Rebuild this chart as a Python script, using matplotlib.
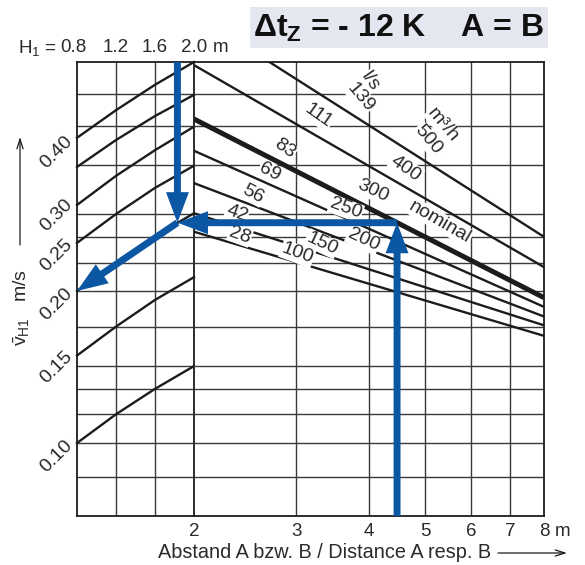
import matplotlib
matplotlib.use('Agg')
import matplotlib.pyplot as plt
from matplotlib.patches import Rectangle
from matplotlib.ticker import NullLocator
from matplotlib import transforms

plt.rcParams['font.family'] = ['Liberation Sans', 'DejaVu Sans']
plt.rcParams['mathtext.fontset'] = 'custom'
plt.rcParams['mathtext.rm'] = 'Liberation Sans'
plt.rcParams['mathtext.it'] = 'Liberation Sans:italic'
plt.rcParams['mathtext.bf'] = 'Liberation Sans:bold'

# left panel: mounting height H1 (m) and velocity curves (m/s)
h1_ticks = [0.8, 1.2, 1.6, 2.0]
h1_curves = [
    [0.402, 0.456, 0.512, 0.568],
    [0.352, 0.398, 0.444, 0.489],
    [0.296, 0.338, 0.380, 0.423],
    [0.249, 0.284, 0.320, 0.354],
    [0.200, 0.228, 0.257, 0.285],
    [0.149, 0.170, 0.192, 0.213],
    [0.100, 0.114, 0.128, 0.142],
]

# right panel: distance A / B (m), one line per air volume
dist_ends = [2, 8]
dist_ticks = [2, 3, 4, 5, 6, 7, 8]
flow_ls = ['139', '111', '83', '69', '56', '42', '28']
flow_m3h = ['500', '400', '300', '250', '200', '150', '100']
flow_v = [
    [0.707, 0.256],
    [0.560, 0.223],
    [0.438, 0.194],
    [0.379, 0.186],
    [0.327, 0.178],
    [0.285, 0.171],
    [0.262, 0.163],
]
nominal = '83'

# velocity axis (m/s)
v_min, v_max = 0.0717, 0.568
v_grid = [0.0857, 0.10, 0.114, 0.128, 0.142, 0.170, 0.20, 0.227, 0.256,
          0.284, 0.355, 0.424, 0.491]
v_labels = [0.10, 0.15, 0.20, 0.25, 0.30, 0.40]

# worked example (blue arrows)
ex_dist = 4.47
ex_v = 0.273
ex_h1 = 1.83
ex_v_out = 0.20

# label placement on the right panel: (text, distance, velocity, angle)
line_labels = [
    ('l/s', 4.02, 0.519, -55), ('139', 3.86, 0.484, -50),
    ('111', 3.27, 0.444, -35), ('83', 2.86, 0.382, -35),
    ('69', 2.70, 0.344, -28), ('56', 2.53, 0.311, -28),
    ('42', 2.37, 0.285, -20), ('28', 2.40, 0.258, -20),
    ('m³/h', 5.36, 0.426, -50), ('500', 5.05, 0.398, -50),
    ('400', 4.63, 0.350, -35), ('300', 4.06, 0.316, -25),
    ('250', 3.65, 0.291, -20), ('200', 3.91, 0.252, -25),
    ('150', 3.32, 0.248, -25), ('100', 3.01, 0.237, -20),
    ('nominal', 5.30, 0.274, -30),
]

W, H = 585, 565
blue = '#0b57a4'
ink = '#1c1c1c'
grid_c = '#3a3a3a'
txt_c = '#2a2a2a'
fs = 13.5


def box(x0, y0, x1, y1):
    return [x0 / W, 1 - y1 / H, (x1 - x0) / W, (y1 - y0) / H]


fig = plt.figure(figsize=(W / 100, H / 100), dpi=100)
ax_l = fig.add_axes(box(77, 62, 194, 516))
ax_r = fig.add_axes(box(194, 62, 544, 516))
ax_r.patch.set_facecolor('none')

ax_r.set_xscale('log')
ax_r.set_xlim(dist_ends[0], dist_ends[-1])
ax_l.set_xlim(h1_ticks[0], h1_ticks[-1])
for ax in (ax_l, ax_r):
    ax.set_yscale('log')
    ax.set_ylim(v_min, v_max)
    for axis in (ax.xaxis, ax.yaxis):
        axis.set_major_locator(NullLocator())
        axis.set_minor_locator(NullLocator())
    for s in ax.spines.values():
        s.set_linewidth(1.3)
        s.set_color(ink)
    for v in v_grid:
        ax.axhline(v, color=grid_c, lw=1.0, zorder=1)
ax_r.spines['left'].set_visible(False)

for h in h1_ticks[1:-1]:
    ax_l.axvline(h, color=grid_c, lw=1.0, zorder=1)
for d in dist_ticks[1:-1]:
    ax_r.axvline(d, color=grid_c, lw=1.0, zorder=1)

# curves
for c in h1_curves:
    ax_l.plot(h1_ticks, c, color=ink, lw=1.7, zorder=3, clip_on=False)
for name, vals in zip(flow_ls, flow_v):
    ax_r.plot(dist_ends, vals, color=ink, lw=3.6 if name == nominal else 1.7,
              zorder=3, solid_capstyle='butt')

for txt, d, v, rot in line_labels:
    ax_r.text(d, v, txt, rotation=rot, rotation_mode='anchor', ha='center',
              va='center', fontsize=14, color=txt_c, zorder=5,
              bbox=dict(fc='white', ec='none', pad=0.5))

# y labels (rotated)
tr = transforms.blended_transform_factory(ax_l.transAxes, ax_l.transData)
for v in v_labels:
    ax_l.text(-0.06, v, f'{v:.2f}', transform=tr, rotation=45,
              rotation_mode='anchor', ha='right', va='center',
              fontsize=14, color=txt_c)

# x labels
for d in dist_ticks:
    ax_r.annotate(str(d), (d, 0), xycoords=('data', 'axes fraction'),
                  xytext=(0, -16), textcoords='offset pixels',
                  ha='center', va='center', fontsize=fs, color=txt_c)
ax_r.annotate('m', (dist_ticks[-1], 0), xycoords=('data', 'axes fraction'),
              xytext=(11, -16), textcoords='offset pixels',
              ha='left', va='center', fontsize=fs, color=txt_c)

# H1 labels on top
for h in h1_ticks:
    dx = -4 if h == h1_ticks[0] else 0
    ax_l.annotate(f'{h:.1f}', (h, 1), xycoords=('data', 'axes fraction'),
                  xytext=(dx, 14), textcoords='offset pixels',
                  ha='center', va='center', fontsize=fs, color=txt_c)
ax_l.annotate(r'H$_1$ =', (h1_ticks[0], 1), xycoords=('data', 'axes fraction'),
              xytext=(-20, 14), textcoords='offset pixels',
              ha='right', va='center', fontsize=fs, color=txt_c)
ax_l.annotate('m', (h1_ticks[-1], 1), xycoords=('data', 'axes fraction'),
              xytext=(19, 14), textcoords='offset pixels',
              ha='left', va='center', fontsize=fs, color=txt_c)

# axis titles and arrows
fig.text(158 / W, 1 - 553 / H, 'Abstand A bzw. B / Distance A resp. B',
         ha='left', va='center', fontsize=14.3, color=txt_c)
ax_l.annotate('', xy=(567, H - 553), xycoords='figure pixels',
              xytext=(498, H - 553), textcoords='figure pixels',
              arrowprops=dict(arrowstyle='->,head_length=0.7,head_width=0.22',
                              lw=0.9, color=ink, shrinkA=0, shrinkB=0),
              annotation_clip=False)
ax_l.annotate('', xy=(20, H - 137), xycoords='figure pixels',
              xytext=(20, H - 245), textcoords='figure pixels',
              arrowprops=dict(arrowstyle='->,head_length=0.7,head_width=0.22',
                              lw=0.9, color=ink, shrinkA=0, shrinkB=0),
              annotation_clip=False)
fig.text(22 / W, 1 - 308 / H, r'$\bar{\mathrm{v}}_{\mathrm{H1}}$   m/s',
         rotation=90, ha='center', va='center', fontsize=14, color=txt_c)

# title box
fig.patches.append(Rectangle((250 / W, 1 - 48 / H), 298 / W, 41 / H,
                             transform=fig.transFigure, fc='#e4e6f0',
                             ec='none', zorder=0))
fig.text(253 / W, 1 - 28 / H, r'$\mathbf{\Delta t_Z}$ = - 12 K    A = B',
         ha='left', va='center', fontsize=23, fontweight='bold', color='#111111')

# worked example arrows
arw = dict(arrowstyle='simple,head_length=2.2,head_width=1.65,tail_width=0.5',
           mutation_scale=10, fc=blue, ec='none', lw=0, shrinkA=0, shrinkB=0)
ax_l.annotate('', xy=(ex_h1, ex_v), xytext=(ex_h1, v_max),
              arrowprops=arw, annotation_clip=False, zorder=6)
ax_l.annotate('', xy=(h1_ticks[0], ex_v_out), xytext=(ex_h1, ex_v),
              arrowprops=arw, annotation_clip=False, zorder=6)
ax_r.annotate('', xy=(ex_h1, ex_v), xycoords=ax_l.transData,
              xytext=(ex_dist, ex_v), textcoords=ax_r.transData,
              arrowprops=arw, annotation_clip=False, zorder=6)
ax_r.annotate('', xy=(ex_dist, ex_v), xytext=(ex_dist, v_min),
              arrowprops=arw, annotation_clip=False, zorder=6)

fig.savefig('out.png', dpi=100)
